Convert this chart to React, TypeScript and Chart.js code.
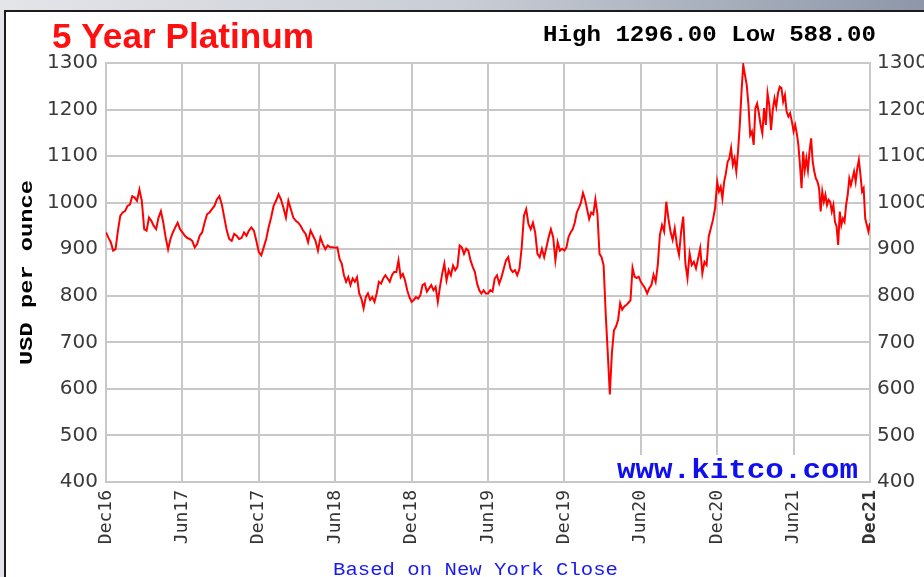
import React, { useEffect, useRef } from "react";
import { Chart, registerables } from "chart.js";

Chart.register(...registerables);

// ---- axis data ----
const xTickLabels = ["Dec16", "Jun17", "Dec17", "Jun18", "Dec18", "Jun19", "Dec19", "Jun20", "Dec20", "Jun21", "Dec21"];
const yMin = 400;
const yMax = 1300;
const yStep = 100;
const monthsPerTick = 6;

// ---- series values (USD per ounce), one array per half-year ----
const dec16ToJun17 = [936, 925, 915, 897, 900, 940, 972, 979, 982, 993, 996, 1014, 1011, 1004, 1028, 1004, 943, 940, 968, 961, 950, 943, 968, 982, 957, 925, 900, 922, 936, 947, 957, 943];
const jun17ToDec17 = [936, 929, 924, 922, 918, 904, 911, 929, 936, 957, 975, 979, 986, 993, 1007, 1014, 996, 968, 940, 922, 918, 933, 929, 922, 924, 936, 929, 940, 947, 940, 918];
const dec17ToJun18 = [894, 887, 904, 922, 947, 968, 993, 1004, 1018, 1007, 989, 968, 1004, 986, 968, 961, 957, 950, 940, 933, 915, 940, 929, 918, 897, 925, 911, 900, 908, 904, 904];
const jun18ToDec18 = [903, 904, 879, 869, 844, 830, 840, 823, 837, 830, 840, 805, 794, 773, 797, 805, 791, 797, 787, 805, 830, 826, 837, 844, 837, 830, 844, 851, 851, 876, 840, 847, 833, 812, 797];
const dec18ToJun19 = [787, 791, 797, 794, 801, 823, 826, 809, 816, 823, 812, 819, 787, 819, 847, 869, 833, 855, 844, 865, 855, 862, 908, 904, 890, 901, 897, 876, 862, 851, 826, 812, 805, 812, 805];
const jun19ToDec19 = [805, 812, 809, 837, 844, 826, 840, 858, 876, 883, 858, 851, 855, 844, 858, 904, 972, 986, 954, 943, 957, 936, 890, 883, 901, 883, 904, 926, 943, 926, 876, 915, 897, 901];
const dec19ToJun20 = [897, 904, 926, 936, 943, 957, 979, 989, 1000, 1021, 1007, 986, 965, 979, 975, 1007, 975, 890, 883, 865, 762, 677, 588, 677, 726, 734, 748, 784, 770, 777, 780, 785, 790, 860, 841, 838, 841];
const jun20ToDec20 = [830, 823, 816, 805, 816, 823, 845, 830, 866, 931, 952, 938, 1002, 966, 938, 920, 945, 909, 888, 938, 970, 870, 838, 891, 866, 873, 859, 880, 902, 848, 873, 866, 927, 945, 963, 988];
const dec20ToJun21 = [1045, 1024, 1034, 1009, 1045, 1063, 1088, 1095, 1117, 1081, 1095, 1067, 1110, 1167, 1238, 1296, 1274, 1253, 1210, 1145, 1153, 1124, 1203, 1213, 1192, 1167, 1149, 1203, 1167, 1235, 1210, 1156, 1199, 1224, 1206, 1235, 1249, 1246, 1217, 1231, 1195, 1185, 1192, 1174];
const jun21ToDec21 = [1153, 1167, 1149, 1124, 1081, 1031, 1110, 1070, 1095, 1070, 1110, 1138, 1088, 1067, 1052, 1045, 1031, 981, 1024, 1002, 1017, 995, 1006, 1002, 981, 995, 959, 949, 909, 981, 952, 966, 959, 995, 1017, 1052, 1038, 1052, 1067, 1045, 1074, 1092, 1060, 1024, 1031, 966, 952, 938, 956];

const halfYears = [dec16ToJun17, jun17ToDec17, dec17ToJun18, jun18ToDec18, dec18ToJun19, jun19ToDec19, dec19ToJun20, jun20ToDec20, dec20ToJun21, jun21ToDec21];

const titleText = "5 Year Platinum";
const axisTitleText = "USD per ounce";
const sourceText = "www.kitco.com";
const footerText = "Based on New York Close";

function buildPoints() {
  const pts: { x: number; y: number }[] = [];
  halfYears.forEach((seg, s) => {
    const last = s === halfYears.length - 1;
    const n = last ? seg.length - 1 : seg.length;
    seg.forEach((v, j) => pts.push({ x: s * monthsPerTick + (monthsPerTick * j) / n, y: v }));
  });
  return pts;
}

function fitText(ctx: CanvasRenderingContext2D, text: string, x: number, y: number, width: number, font: string, color: string) {
  ctx.save();
  ctx.font = font;
  ctx.fillStyle = color;
  ctx.textAlign = "left";
  ctx.textBaseline = "alphabetic";
  const w = ctx.measureText(text).width;
  ctx.translate(x, y);
  ctx.scale(width / w, 1);
  ctx.fillText(text, 0, 0);
  ctx.restore();
}

const GRID = "#c8c8c8";

export default function App() {
  const ref = useRef<HTMLCanvasElement | null>(null);

  useEffect(() => {
    if (!ref.current) return;
    const points = buildPoints();
    const all = halfYears.flat();
    const hi = Math.max(...all);
    const lo = Math.min(...all);

    const textPlugin = {
      id: "kitcoText",
      afterDraw(chart: any) {
        const ctx: CanvasRenderingContext2D = chart.ctx;
        const area = chart.chartArea;
        fitText(ctx, titleText, 52, 48, 262, "bold 35px 'Liberation Sans', Arial, sans-serif", "#ff1010");
        fitText(ctx, `High ${hi.toFixed(2)} Low ${lo.toFixed(2)}`, 543, 41, 333, "bold 22px 'Liberation Mono', monospace", "#000000");
        ctx.save();
        ctx.fillStyle = "#ffffff";
        ctx.fillRect(612, 455, 252, area.bottom - 456);
        ctx.restore();
        fitText(ctx, sourceText, 617, 478, 241, "bold 27px 'Liberation Mono', monospace", "#1010ee");
        fitText(ctx, footerText, 333, 575, 285, "19px 'Liberation Mono', monospace", "#1a1aee");
        ctx.save();
        ctx.font = "bold 19px 'Liberation Mono', monospace";
        const w = ctx.measureText(axisTitleText).width;
        ctx.translate(27, (area.top + area.bottom) / 2);
        ctx.rotate(-Math.PI / 2);
        ctx.scale(185 / w, 1);
        ctx.fillStyle = "#000000";
        ctx.textAlign = "center";
        ctx.textBaseline = "middle";
        ctx.fillText(axisTitleText, 0, 0);
        ctx.restore();
      },
    };

    const yTickFont = { family: "'DejaVu Sans', Verdana, sans-serif", size: 20 };
    const plainNumber = (v: any) => String(v);

    const chart = new Chart(ref.current, {
      type: "line",
      data: {
        datasets: [
          {
            data: points,
            borderColor: "#ff0000",
            borderWidth: 2,
            pointRadius: 0,
            tension: 0,
            fill: false,
            yAxisID: "y",
          },
        ],
      },
      options: {
        animation: false,
        responsive: false,
        layout: { padding: { top: 63, left: 0, right: 0, bottom: 0 } },
        plugins: { legend: { display: false }, tooltip: { enabled: false }, title: { display: false } },
        scales: {
          x: {
            type: "linear",
            min: 0,
            max: (xTickLabels.length - 1) * monthsPerTick,
            afterFit: (scale: any) => {
              scale.height = 95;
            },
            ticks: {
              stepSize: monthsPerTick,
              autoSkip: false,
              maxRotation: 90,
              minRotation: 90,
              padding: 8,
              color: "#333333",
              font: (c: any) => ({
                family: "'DejaVu Sans Mono', monospace",
                size: 18,
                weight: c.index === xTickLabels.length - 1 ? "bold" : "normal",
              }),
              callback: (v: any) => xTickLabels[Math.round(Number(v) / monthsPerTick)] ?? "",
            },
            grid: { color: GRID, lineWidth: 2, drawTicks: false },
            border: { display: true, color: GRID, width: 2 },
          },
          y: {
            type: "linear",
            position: "left",
            min: yMin,
            max: yMax,
            afterFit: (scale: any) => {
              scale.width = 106;
            },
            ticks: { stepSize: yStep, padding: 8, color: "#3a3a3a", font: yTickFont, callback: plainNumber },
            grid: { color: GRID, lineWidth: 2, drawTicks: false },
            border: { display: true, color: GRID, width: 2 },
          },
          y2: {
            type: "linear",
            position: "right",
            min: yMin,
            max: yMax,
            afterFit: (scale: any) => {
              scale.width = 54;
            },
            ticks: { stepSize: yStep, padding: 7, color: "#3a3a3a", font: yTickFont, callback: plainNumber },
            grid: { display: false, drawTicks: false },
            border: { display: true, color: GRID, width: 2 },
          },
        },
      },
      plugins: [textPlugin],
    });
    return () => chart.destroy();
  }, []);

  return (
    <div
      style={{
        position: "fixed",
        left: 0,
        top: 0,
        width: 924,
        height: 577,
        overflow: "hidden",
        background: "linear-gradient(to right, #e4e5e9 0%, #c9cdd5 50%, #8d97a9 100%)",
      }}
    >
      <div
        style={{
          position: "absolute",
          left: 4,
          top: 10,
          width: 940,
          height: 600,
          background: "#ffffff",
          borderTop: "2px solid #1c1c1c",
          borderLeft: "2px solid #1c1c1c",
        }}
      />
      <canvas ref={ref} width={924} height={577} style={{ position: "absolute", left: 0, top: 0, width: 924, height: 577 }} />
    </div>
  );
}
